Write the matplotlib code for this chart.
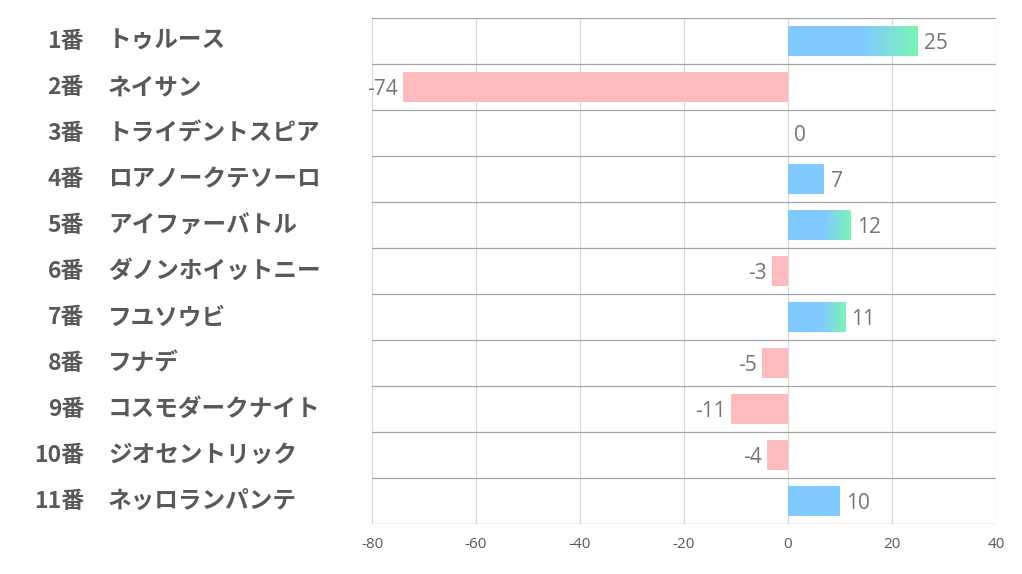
import matplotlib.pyplot as plt
import matplotlib.transforms as mtransforms
import numpy as np

plt.rcParams['font.family'] = ['Noto Sans CJK JP', 'DejaVu Sans']

# data
numbers = ['1番', '2番', '3番', '4番', '5番', '6番', '7番', '8番', '9番', '10番', '11番']
names = ['トゥルース', 'ネイサン', 'トライデントスピア', 'ロアノークテソーロ', 'アイファーバトル',
         'ダノンホイットニー', 'フユソウビ', 'フナデ', 'コスモダークナイト', 'ジオセントリック',
         'ネッロランパンテ']
values = [25, -74, 0, 7, 12, -3, 11, -5, -11, -4, 10]
xticks = [-80, -60, -40, -20, 0, 20, 40]

blue = np.array([0x80, 0xCA, 0xFF]) / 255
green = np.array([0x7C, 0xF5, 0xB6]) / 255
pink = '#FFBCBF'
label_color = '#757575'

fig = plt.figure(figsize=(10.22, 5.74), dpi=100)
ax = fig.add_axes([372 / 1022, 1 - 524 / 574, 624 / 1022, 506 / 574])

n = len(values)
y = np.arange(n)

# grid
for xv in xticks:
    ax.axvline(xv, color='#D9D9D9', lw=0.9, zorder=0)
for b in np.arange(n + 1) - 0.5:
    ax.axhline(b, color='#A6A6A6', lw=0.9, zorder=0)

bar_h = 0.67
for yi, v in zip(y, values):
    if v < 0:
        ax.barh(yi, v, height=bar_h, color=pink, zorder=2)
        ax.text(v - 1.0, yi + 0.05, str(v), ha='right', va='center', fontsize=15,
                color=label_color, family=['Open Sans', 'DejaVu Sans'])
    else:
        if v > 0:
            bar = ax.barh(yi, v, height=bar_h, color=blue, zorder=2)[0]
            if v > 10:
                # gradient toward green at the end of the bar
                t = np.linspace(0, 1, 200)
                w = np.clip((t - 0.58) / 0.42, 0, 1)
                grad = (1 - w)[:, None] * blue + w[:, None] * green
                im = ax.imshow(grad[None, :, :], extent=[0, v, yi + bar_h / 2, yi - bar_h / 2],
                               aspect='auto', zorder=3)
                im.set_clip_path(bar)
        ax.text(v + 1.2, yi + 0.05, str(v), ha='left', va='center', fontsize=15,
                color=label_color, family=['Open Sans', 'DejaVu Sans'])

ax.set_ylim(n - 0.5, -0.5)
ax.set_xlim(-80, 40)

ax.set_xticks(xticks)
ax.set_xticklabels([str(t) for t in xticks], fontsize=11, color='#595959',
                   family=['Open Sans', 'DejaVu Sans'])
ax.tick_params(axis='x', length=0, pad=9)
ax.set_yticks([])
for s in ax.spines.values():
    s.set_visible(False)

# left-hand labels
trans = mtransforms.blended_transform_factory(fig.transFigure, ax.transData)
for yi, num, nm in zip(y, numbers, names):
    ax.text(84 / 1022, yi, num, transform=trans, ha='right', va='center',
            fontsize=16.5, fontweight='bold', color='#595959', clip_on=False)
    ax.text(108 / 1022, yi, nm, transform=trans, ha='left', va='center',
            fontsize=17, fontweight='bold', color='#595959', clip_on=False)

plt.savefig('out.png', dpi=100)
